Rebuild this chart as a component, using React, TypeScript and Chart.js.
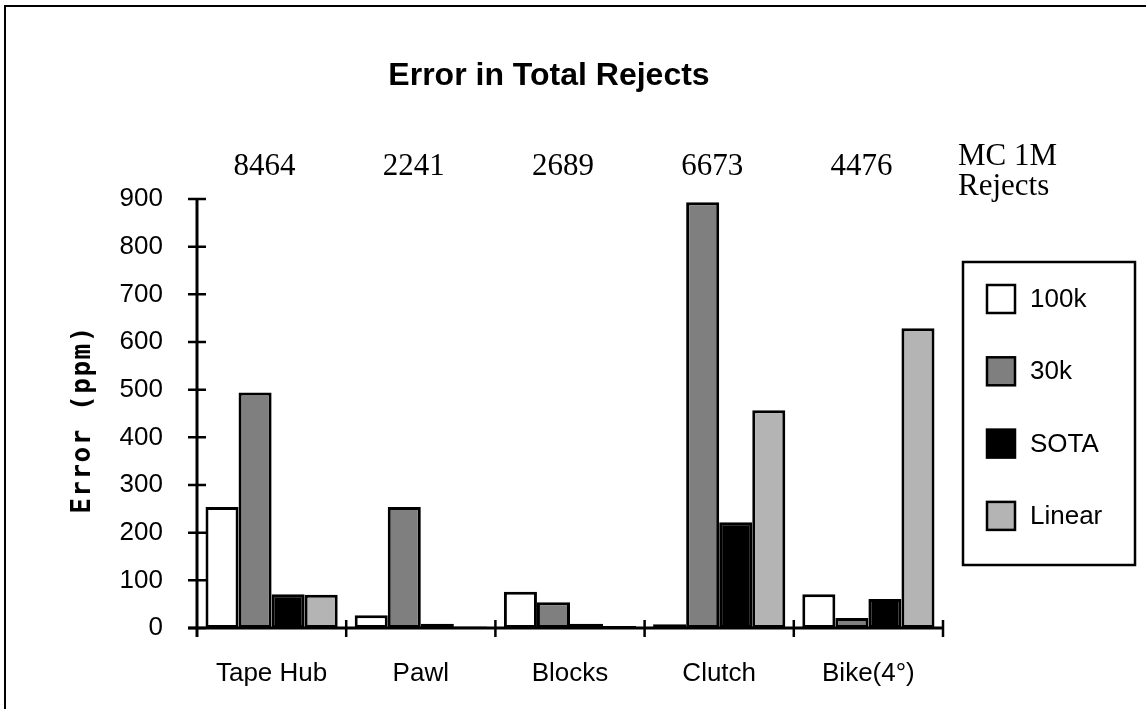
import { useEffect, useRef } from 'react';
import { Chart, registerables } from 'chart.js';

Chart.register(...registerables);

// Parts along the x axis and the Monte Carlo reject counts shown above each group
const categories = ['Tape Hub', 'Pawl', 'Blocks', 'Clutch', 'Bike(4°)'];
const mcRejects = ['8464', '2241', '2689', '6673', '4476'];
const mcCaption = ['MC 1M', 'Rejects'];

// Error (ppm) for each estimation method
const seriesNames = ['100k', '30k', 'SOTA', 'Linear'];
const err100k = [254, 27, 76, 8, 71];
const err30k = [494, 254, 54, 893, 21];
const errSota = [71, 9, 9, 222, 61];
const errLinear = [70, 3, 4, 457, 629];
const seriesColors = ['#ffffff', '#7f7f7f', '#000000', '#b4b4b4'];

const yMax = 900;
const yStep = 100;

const SANS = '"Liberation Sans", Arial, Helvetica, sans-serif';
const SERIF = '"Liberation Serif", "Times New Roman", Times, serif';

const decorations = {
  id: 'decorations',
  afterDatasetsDraw(chart: any) {
    const { ctx, chartArea, scales } = chart;
    const { left, right, top, bottom } = chartArea;
    const n = categories.length;
    const step = (right - left) / n;

    ctx.save();
    ctx.strokeStyle = '#000';
    ctx.lineCap = 'butt';

    // axis lines
    ctx.lineWidth = 3;
    ctx.beginPath();
    ctx.moveTo(left, top - 1);
    ctx.lineTo(left, bottom + 9);
    ctx.moveTo(left - 9, bottom);
    ctx.lineTo(right, bottom);
    ctx.stroke();

    // tick marks crossing the axes
    ctx.lineWidth = 2.5;
    ctx.beginPath();
    for (let v = 0; v <= yMax; v += yStep) {
      const y = scales.y.getPixelForValue(v);
      ctx.moveTo(left - 9, y);
      ctx.lineTo(left + 9, y);
    }
    for (let i = 1; i <= n; i++) {
      const x = left + step * i;
      ctx.moveTo(x, bottom - 8);
      ctx.lineTo(x, bottom + 9);
    }
    ctx.stroke();
    ctx.restore();
  },
  afterDraw(chart: any) {
    const { ctx, chartArea, scales, width, height } = chart;
    const { top, bottom } = chartArea;
    ctx.save();
    ctx.fillStyle = '#000';
    ctx.strokeStyle = '#000';

    // outer frame
    ctx.lineWidth = 2;
    ctx.beginPath();
    ctx.moveTo(5, height);
    ctx.lineTo(5, 6);
    ctx.lineTo(width, 6);
    ctx.stroke();

    // title
    ctx.font = `bold 32px ${SANS}`;
    ctx.textAlign = 'center';
    ctx.textBaseline = 'alphabetic';
    ctx.fillText('Error in Total Rejects', 549, 85);

    // reject counts above each group
    ctx.font = `31px ${SERIF}`;
    mcRejects.forEach((t, i) => {
      const x = scales.x.getPixelForValue(i) - 7;
      ctx.fillText(t, x, 175);
    });
    ctx.textAlign = 'left';
    ctx.fillText(mcCaption[0], 958, 165);
    ctx.fillText(mcCaption[1], 958, 195);

    // y axis title
    ctx.save();
    ctx.translate(83, (top + bottom) / 2 + 6);
    ctx.rotate(-Math.PI / 2);
    ctx.font = `bold 26px "DejaVu Sans Mono", monospace`;
    (ctx as any).letterSpacing = '1.5px';
    ctx.textAlign = 'center';
    ctx.textBaseline = 'middle';
    ctx.fillText('Error (ppm)', 0, 0);
    ctx.restore();

    // legend box
    const lx = 963, ly = 262, lw = 172, lh = 303;
    ctx.lineWidth = 2.5;
    ctx.strokeRect(lx, ly, lw, lh);
    ctx.font = `26px ${SANS}`;
    ctx.textAlign = 'left';
    ctx.textBaseline = 'middle';
    chart.data.datasets.forEach((ds: any, i: number) => {
      const cy = ly + 37 + i * 72.3;
      ctx.fillStyle = ds.backgroundColor;
      ctx.fillRect(987, cy - 14, 28, 28);
      ctx.lineWidth = 2.5;
      ctx.strokeStyle = '#000';
      ctx.strokeRect(987, cy - 14, 28, 28);
      ctx.fillStyle = '#000';
      ctx.fillText(ds.label, 1030, cy + 1);
    });

    ctx.restore();
  },
};

export default function App() {
  const canvasRef = useRef<HTMLCanvasElement | null>(null);

  useEffect(() => {
    document.body.style.margin = '0';
    const canvas = canvasRef.current;
    if (!canvas) return;
    const seriesValues = [err100k, err30k, errSota, errLinear];
    const chart = new Chart(canvas, {
      type: 'bar',
      data: {
        labels: categories,
        datasets: seriesNames.map((name, i) => ({
          label: name,
          data: seriesValues[i],
          backgroundColor: seriesColors[i],
          borderColor: '#000',
          borderWidth: 3,
          borderSkipped: false,
          barPercentage: 1,
          categoryPercentage: 0.886,
        })),
      },
      options: {
        responsive: false,
        animation: false,
        devicePixelRatio: 1,
        layout: { padding: { left: 0, top: 199, right: 203, bottom: 0 } },
        plugins: {
          legend: { display: false },
          title: { display: false },
          tooltip: { enabled: false },
        },
        scales: {
          x: {
            grid: { display: false, drawTicks: false },
            border: { display: false },
            ticks: {
              color: '#000',
              padding: 30,
              font: { family: SANS, size: 26 },
              maxRotation: 0,
            },
            afterFit: (s: any) => {
              s.height = 81;
            },
          },
          y: {
            min: 0,
            max: yMax,
            grid: { display: false, drawTicks: false },
            border: { display: false },
            ticks: {
              stepSize: yStep,
              color: '#000',
              padding: 34,
              font: { family: SANS, size: 26 },
            },
            afterFit: (s: any) => {
              s.width = 197;
            },
          },
        },
      },
      plugins: [decorations],
    });
    return () => chart.destroy();
  }, []);

  return (
    <div style={{ width: 1146, height: 709, background: '#fff' }}>
      <canvas ref={canvasRef} width={1146} height={709} />
    </div>
  );
}
